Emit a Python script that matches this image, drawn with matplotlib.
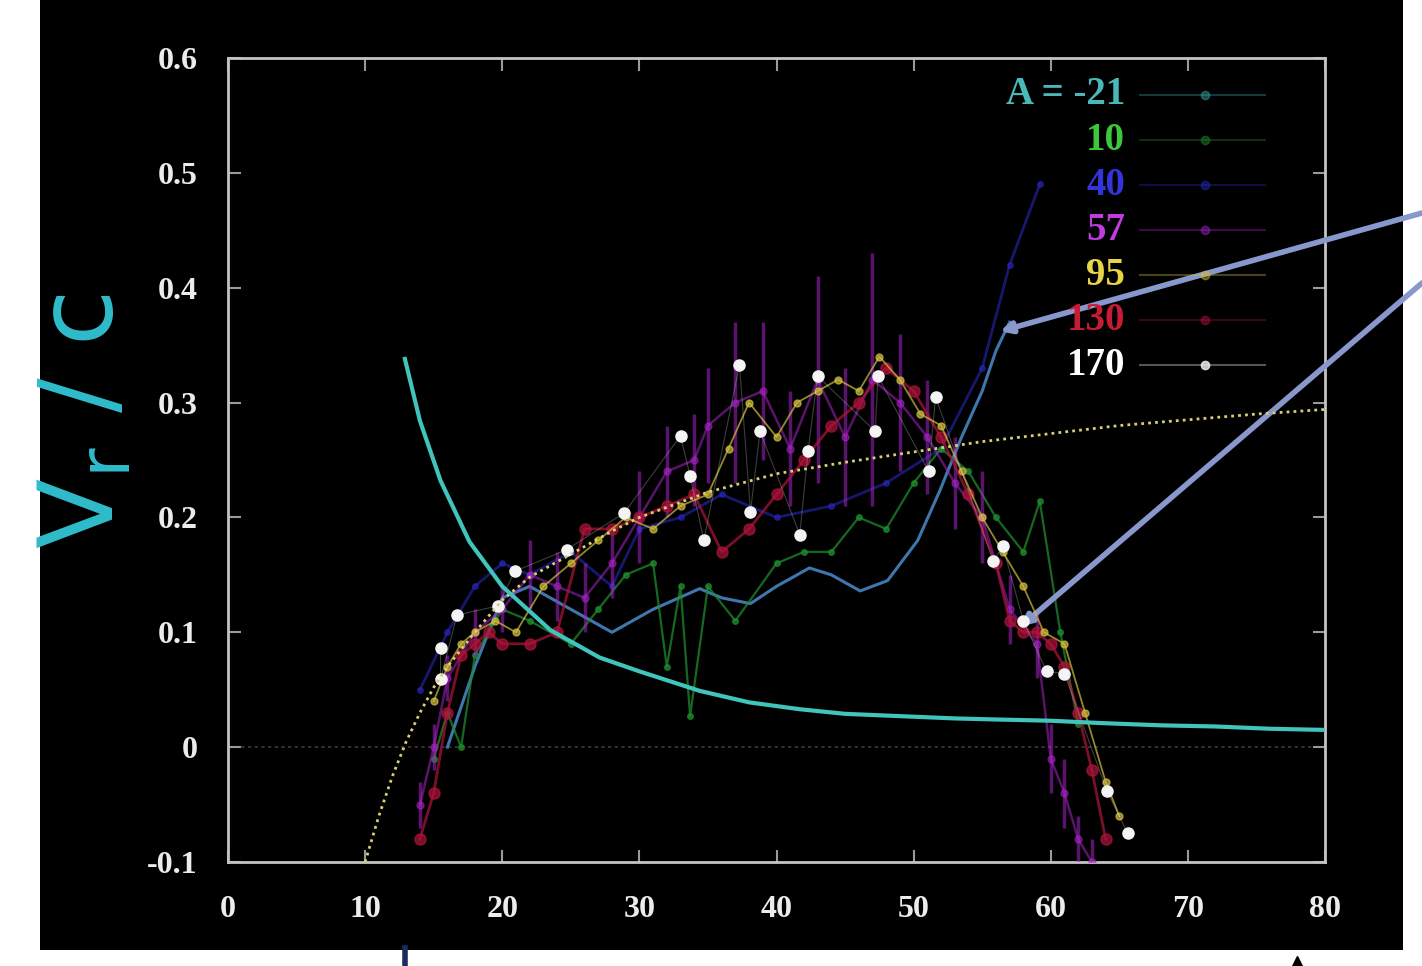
import matplotlib.pyplot as plt
from matplotlib.patches import Rectangle
from matplotlib.lines import Line2D

# ---- data ----
x_ticks = [0, 10, 20, 30, 40, 50, 60, 70, 80]
y_ticks = [-0.1, 0, 0.1, 0.2, 0.3, 0.4, 0.5, 0.6]
y_tick_labels = ['-0.1', '0', '0.1', '0.2', '0.3', '0.4', '0.5', '0.6']

legend_labels = ['A = -21', '10', '40', '57', '95', '130', '170']

# cyan falling curve
cyan_x = [12.9, 14.0, 15.5, 17.6, 20.0, 23.5, 27.1, 30.0, 34.4, 38.0, 41.7, 45.0, 49.0, 53.0, 56.3, 60.0, 63.6, 68.0, 72.0, 76.0, 80.0]
cyan_y = [0.338, 0.284, 0.232, 0.179, 0.140, 0.102, 0.078, 0.066, 0.049, 0.039, 0.033, 0.029, 0.027, 0.025, 0.024, 0.023, 0.021, 0.019, 0.018, 0.016, 0.015]

# yellow dotted rising curve
fit_x = [10, 11, 12, 13, 14, 15, 16, 18, 20, 22, 25, 28, 30, 35, 40, 45, 50, 55, 60, 65, 70, 75, 80]
fit_y = [-0.1, -0.06, -0.025, 0.005, 0.03, 0.052, 0.07, 0.1, 0.128, 0.148, 0.168, 0.188, 0.2, 0.222, 0.238, 0.248, 0.257, 0.266, 0.273, 0.280, 0.285, 0.290, 0.294]

a21_x = [16, 18, 20, 22, 25, 28, 31, 34.4, 36, 38.1, 40, 42.4, 44, 46.1, 48.1, 50.3, 51.9, 53.5, 55, 56, 57]
a21_y = [0.0, 0.07, 0.13, 0.14, 0.12, 0.10, 0.12, 0.138, 0.13, 0.125, 0.14, 0.156, 0.15, 0.136, 0.145, 0.18, 0.223, 0.27, 0.31, 0.345, 0.37]

a10_x = [15, 16, 17, 18, 20, 22, 25, 27, 29, 31, 32, 33, 33.7, 35, 37, 40, 42, 44, 46, 48, 50, 52, 54, 56, 58, 59.2, 60.7, 62]
a10_y = [-0.01, 0.03, 0.0, 0.08, 0.12, 0.11, 0.09, 0.12, 0.15, 0.16, 0.07, 0.14, 0.027, 0.14, 0.11, 0.16, 0.17, 0.17, 0.2, 0.19, 0.23, 0.26, 0.24, 0.2, 0.17, 0.214, 0.1, 0.02]

a40_x = [14, 16, 18, 20, 22, 25, 28, 30, 33, 36, 40, 44, 48, 52, 55, 57, 59.2]
a40_y = [0.05, 0.1, 0.14, 0.16, 0.15, 0.17, 0.14, 0.19, 0.2, 0.22, 0.2, 0.21, 0.23, 0.26, 0.33, 0.42, 0.49]

a57_x = [14, 15, 16, 18, 20, 22, 24, 26, 28, 30, 32, 34, 35, 37, 39, 41, 43, 45, 47, 49, 51, 53, 55, 57, 59, 60, 61, 62, 63]
a57_y = [-0.05, 0.0, 0.06, 0.1, 0.12, 0.15, 0.14, 0.13, 0.16, 0.2, 0.24, 0.25, 0.28, 0.3, 0.31, 0.26, 0.32, 0.27, 0.32, 0.3, 0.27, 0.23, 0.2, 0.12, 0.09, -0.01, -0.04, -0.08, -0.1]
a57_err = [0.02, 0.02, 0.02, 0.02, 0.02, 0.03, 0.03, 0.03, 0.03, 0.04, 0.04, 0.04, 0.05, 0.07, 0.06, 0.05, 0.09, 0.06, 0.11, 0.06, 0.05, 0.04, 0.04, 0.03, 0.03, 0.03, 0.03, 0.02, 0.02]

a95_x = [15, 16, 17, 18, 19.5, 21, 23, 25, 27, 29, 31, 33, 35, 36.5, 38, 40, 41.5, 43, 44.5, 46, 47.5, 49, 50.5, 52, 53.5, 55, 56.5, 58, 59.5, 61, 62.5, 64, 65]
a95_y = [0.04, 0.07, 0.09, 0.1, 0.11, 0.1, 0.14, 0.16, 0.18, 0.2, 0.19, 0.21, 0.22, 0.26, 0.3, 0.27, 0.3, 0.31, 0.32, 0.31, 0.34, 0.32, 0.29, 0.28, 0.24, 0.2, 0.17, 0.14, 0.1, 0.09, 0.03, -0.03, -0.06]

a130_x = [14, 15, 16, 17, 18, 19, 20, 22, 24, 26, 28, 30, 32, 34, 36, 38, 40, 42, 44, 46, 48, 50, 52, 54, 56, 57, 58, 59, 60, 61, 62, 63, 64]
a130_y = [-0.08, -0.04, 0.03, 0.08, 0.09, 0.1, 0.09, 0.09, 0.1, 0.19, 0.19, 0.2, 0.21, 0.22, 0.17, 0.19, 0.22, 0.25, 0.28, 0.3, 0.33, 0.31, 0.27, 0.22, 0.16, 0.11, 0.1, 0.1, 0.09, 0.07, 0.03, -0.02, -0.08]

a170_x = [15.5, 15.5, 16.7, 19.7, 20.9, 24.7, 28.9, 33.0, 33.7, 34.7, 37.3, 38.1, 38.8, 41.7, 42.3, 43.0, 47.2, 47.4, 51.1, 51.6, 55.8, 56.5, 58.0, 59.7, 61.0, 64.1, 65.6]
a170_y = [0.086, 0.059, 0.115, 0.123, 0.153, 0.172, 0.204, 0.271, 0.236, 0.18, 0.333, 0.205, 0.275, 0.185, 0.258, 0.323, 0.275, 0.323, 0.24, 0.305, 0.162, 0.175, 0.11, 0.066, 0.064, -0.038, -0.075]

# pointer tips (data coords)
tip1 = (56.3, 0.362)
tip2 = (57.8, 0.105)

# ---- styles ----
c_21 = '#3aa8a8'
c_10 = '#1e8c2c'
c_40 = '#2a2ac8'
c_57 = '#a424c4'
c_95 = '#d4c040'
c_130 = '#b0143a'
c_170 = '#f4f4f4'
txt_colors = ['#4ab8b8', '#3cc83c', '#3434dc', '#c03ce0', '#e8d444', '#c81c34', '#ffffff']
line_colors = [c_21, c_10, c_40, c_57, c_95, c_130, c_170]

fig = plt.figure(figsize=(14.22, 9.66), dpi=100, facecolor='white')
fig.add_artist(Rectangle((40 / 1422, 16 / 966), 1363 / 1422, 950 / 966,
                         transform=fig.transFigure, facecolor='black',
                         edgecolor='none', zorder=-10))

ax = fig.add_axes([228 / 1422, 104 / 966, 1097 / 1422, 804 / 966])
ax.set_facecolor('black')

ax.axhline(0, color='#3a3a3a', lw=1.2, ls=(0, (2, 2)), zorder=1)

ax.plot(a21_x, a21_y, color='#4a8ccc', lw=2.2, alpha=0.85, zorder=3)
ax.plot(a10_x, a10_y, color=c_10, lw=1.6, marker='o', ms=4, alpha=0.75, zorder=3)
ax.plot(a40_x, a40_y, color=c_40, lw=2.0, marker='o', ms=4, alpha=0.55, zorder=2)
ax.errorbar(a57_x, a57_y, yerr=a57_err, color=c_57, lw=1.8, marker='o', ms=5,
            elinewidth=2.5, capsize=0, alpha=0.55, zorder=3)
ax.plot(a130_x, a130_y, color=c_130, lw=2.0, marker='o', ms=8, alpha=0.7, zorder=4)
ax.plot(a95_x, a95_y, color=c_95, lw=1.3, marker='o', ms=5, alpha=0.7, zorder=5)
ax.plot(a170_x, a170_y, color=c_170, lw=0.8, alpha=0.25, zorder=5)
ax.plot(a170_x, a170_y, ls='none', marker='o', ms=8, color=c_170, zorder=6)

ax.plot(fit_x, fit_y, color='#d8d070', lw=2.0, ls=(0, (1, 1.5)), zorder=6)
ax.plot(cyan_x, cyan_y, color='#40c4bc', lw=3, zorder=7)

# legend drawn like gnuplot: right-justified label, sample line to the right
rows = [0.954, 0.898, 0.842, 0.786, 0.730, 0.674, 0.618]
for lab, tc, lc, yy in zip(legend_labels, txt_colors, line_colors, rows):
    ax.text(0.818, yy, lab, transform=ax.transAxes, ha='right', va='center',
            color=tc, fontsize=28, family='Liberation Serif', weight='bold', zorder=8)
    ax.plot([0.831, 0.945], [yy, yy], transform=ax.transAxes, color=lc,
            lw=1.5, alpha=0.35, zorder=8)
    ax.plot([0.891], [yy], transform=ax.transAxes, marker='o', ms=6,
            color=lc, alpha=0.8 if lab == '170' else 0.45, zorder=8)

ax.set_xlim(0, 80)
ax.set_ylim(-0.1, 0.6)
ax.set_xticks(x_ticks)
ax.set_yticks(y_ticks)
ax.set_yticklabels(y_tick_labels)
for sp in ax.spines.values():
    sp.set_color('#c4c4c4')
    sp.set_linewidth(2)
ax.tick_params(direction='in', length=9, width=1.5, color='#9a9a9a',
               top=True, right=True, labelcolor='#ececec', labelsize=23)
ax.tick_params(axis='x', pad=24)
ax.tick_params(axis='y', pad=22)
for lb in ax.get_xticklabels() + ax.get_yticklabels():
    lb.set_family('Liberation Serif')
    lb.set_weight('bold')

# y label
fig.text(0.060, 0.564, r'V$_\mathregular{r}$ / c', rotation=90, ha='center',
         va='center', color='#30bccc', fontsize=74, family='DejaVu Sans')

# pointer lines reaching in from the right edge
arrow_kw = dict(arrowstyle='-|>', color='#8898cc', lw=4, mutation_scale=16,
                shrinkA=0, shrinkB=0)
ax.annotate('', xy=tip1, xycoords='data', xytext=(1422, 753),
            textcoords='figure pixels', arrowprops=arrow_kw, annotation_clip=False)
ax.annotate('', xy=tip2, xycoords='data', xytext=(1422, 683),
            textcoords='figure pixels', arrowprops=arrow_kw, annotation_clip=False)

# small stubs below the panel
fig.add_artist(Line2D([405 / 1422, 405 / 1422], [0, 18 / 966], transform=fig.transFigure,
                      color='#1c2c5c', lw=4))
fig.add_artist(Line2D([1297 / 1422], [5 / 966], transform=fig.transFigure,
                      marker='^', ms=7, color='black', ls='none'))

fig.savefig('out.png', dpi=100, facecolor='white')
